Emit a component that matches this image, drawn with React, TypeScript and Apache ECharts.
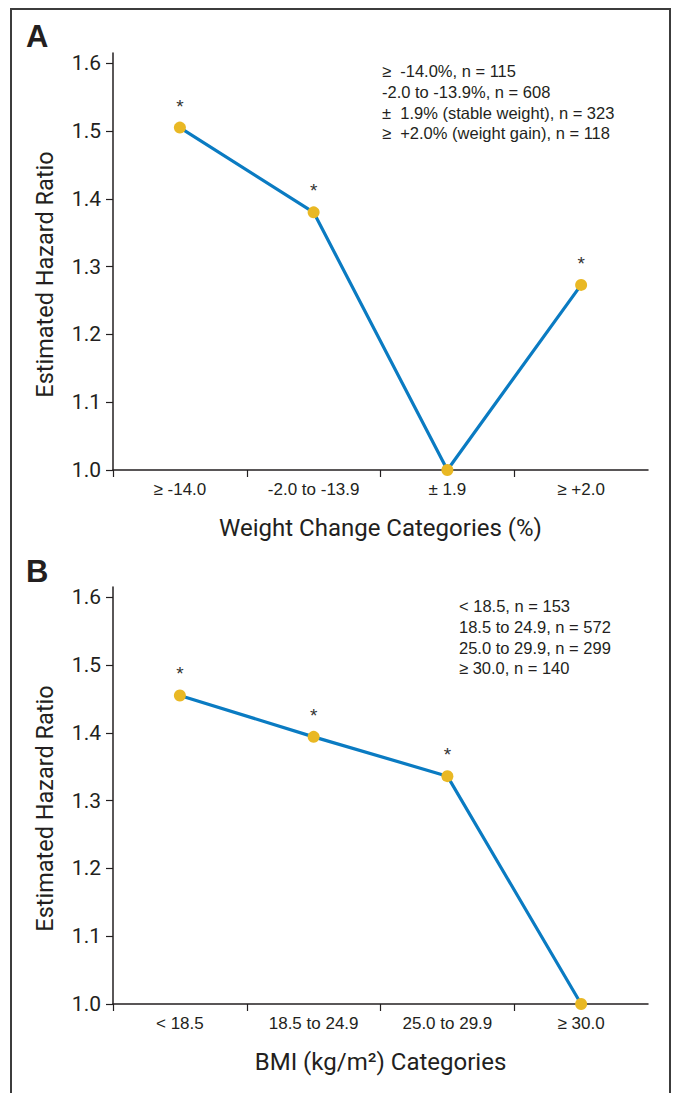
import React, { useEffect, useRef } from "react";
import * as echarts from "echarts";

// ---- data ----
const weightCategories = ["≥ -14.0", "-2.0 to -13.9", "± 1.9", "≥ +2.0"];
const weightHR = [1.505, 1.38, 1.0, 1.273];
const weightSig = [true, true, false, true];
const weightLegend = [
  "≥  -14.0%, n = 115",
  "-2.0 to -13.9%, n = 608",
  "±  1.9% (stable weight), n = 323",
  "≥  +2.0% (weight gain), n = 118",
];

const bmiCategories = ["< 18.5", "18.5 to 24.9", "25.0 to 29.9", "≥ 30.0"];
const bmiHR = [1.455, 1.394, 1.336, 1.0];
const bmiSig = [true, true, true, false];
const bmiLegend = [
  "< 18.5, n = 153",
  "18.5 to 24.9, n = 572",
  "25.0 to 29.9, n = 299",
  "≥ 30.0, n = 140",
];

const yTicks = [1.0, 1.1, 1.2, 1.3, 1.4, 1.5, 1.6];
const xTickBounds = [-0.5, 0.5, 1.5, 2.5];
const xLabelPos = [0, 1, 2, 3];

const NARROW = '"Liberation Sans Narrow", "Arial Narrow", "Roboto", sans-serif';
const REG = '"Liberation Sans", Arial, Helvetica, sans-serif';
const INK = "#231f20";
const LINE = "#0a7bc2";
const DOT = "#e9b824";

export default function App() {
  const ref = useRef<HTMLDivElement>(null);

  useEffect(() => {
    if (!ref.current) return;
    const chart = echarts.init(ref.current, null, { renderer: "svg" });

    const makeX = (gridIndex: number, cats: string[], name: string) => ({
      type: "value",
      gridIndex,
      min: -0.5,
      max: 3.5,
      name,
      nameLocation: "middle",
      nameGap: 46,
      nameTextStyle: { fontFamily: NARROW, fontSize: 24, color: INK },
      axisLine: { show: true, onZero: false, lineStyle: { color: INK, width: 1.5 } },
      axisTick: { show: true, length: 7, customValues: xTickBounds, lineStyle: { color: INK, width: 1.2 } },
      axisLabel: {
        customValues: xLabelPos,
        formatter: (v: number) => cats[Math.round(v)] ?? "",
        fontFamily: REG,
        fontSize: 17,
        color: INK,
        margin: 11,
      },
      splitLine: { show: false },
    });

    const makeY = (gridIndex: number) => ({
      type: "value",
      gridIndex,
      min: 1.0,
      max: 1.615,
      name: "Estimated Hazard Ratio",
      nameLocation: "middle",
      nameGap: 56,
      nameTextStyle: { fontFamily: NARROW, fontSize: 23.5, color: INK, padding: [0, 26, 0, 0] },
      axisLine: { show: true, onZero: false, lineStyle: { color: INK, width: 1.5 } },
      axisTick: { show: true, length: 7, customValues: yTicks, lineStyle: { color: INK, width: 1.2 } },
      axisLabel: {
        customValues: yTicks,
        formatter: (v: number) => v.toFixed(1),
        fontFamily: NARROW,
        fontSize: 21,
        color: INK,
        margin: 12,
      },
      splitLine: { show: false },
    });

    const makeSeries = (idx: number, values: number[], sig: boolean[]) => ({
      type: "line",
      xAxisIndex: idx,
      yAxisIndex: idx,
      data: values.map((v, i) => [i, v]),
      clip: false,
      lineStyle: { color: LINE, width: 3.2 },
      itemStyle: { color: DOT },
      symbol: "circle",
      symbolSize: 12,
      label: {
        show: true,
        position: "top",
        distance: 6,
        formatter: (p: any) => (sig[p.dataIndex] ? "*" : ""),
        fontFamily: REG,
        fontSize: 19,
        color: "#333",
      },
    });

    const legendText = (lines: string[], x: number, y: number) => ({
      type: "text",
      left: x,
      top: y,
      style: {
        text: lines.join("\n"),
        font: `16.5px ${REG}`,
        fill: INK,
        lineHeight: 20.6,
      },
    });

    chart.setOption({
      animation: false,
      backgroundColor: "#ffffff",
      grid: [
        { left: 113, top: 53, width: 535, height: 417 },
        { left: 113, top: 587, width: 535, height: 417 },
      ],
      xAxis: [
        makeX(0, weightCategories, "Weight Change Categories (%)"),
        makeX(1, bmiCategories, "BMI (kg/m²) Categories"),
      ],
      yAxis: [makeY(0), makeY(1)],
      series: [makeSeries(0, weightHR, weightSig), makeSeries(1, bmiHR, bmiSig)],
      graphic: [
        {
          type: "polyline",
          shape: { points: [[11, 1093], [11, 9], [670, 9], [670, 1093]] },
          style: { stroke: "#3c3c3c", lineWidth: 2, fill: "none" },
          silent: true,
        },
        {
          type: "text",
          left: 26,
          top: 21,
          style: { text: "A", font: `bold 31px ${REG}`, fill: INK },
        },
        {
          type: "text",
          left: 26,
          top: 556,
          style: { text: "B", font: `bold 31px ${REG}`, fill: INK },
        },
        legendText(weightLegend, 382, 61),
        legendText(bmiLegend, 459, 596),
      ],
    });

    return () => chart.dispose();
  }, []);

  return (
    <div
      ref={ref}
      style={{ position: "fixed", left: 0, top: 0, width: 676, height: 1093, background: "#fff" }}
    />
  );
}
